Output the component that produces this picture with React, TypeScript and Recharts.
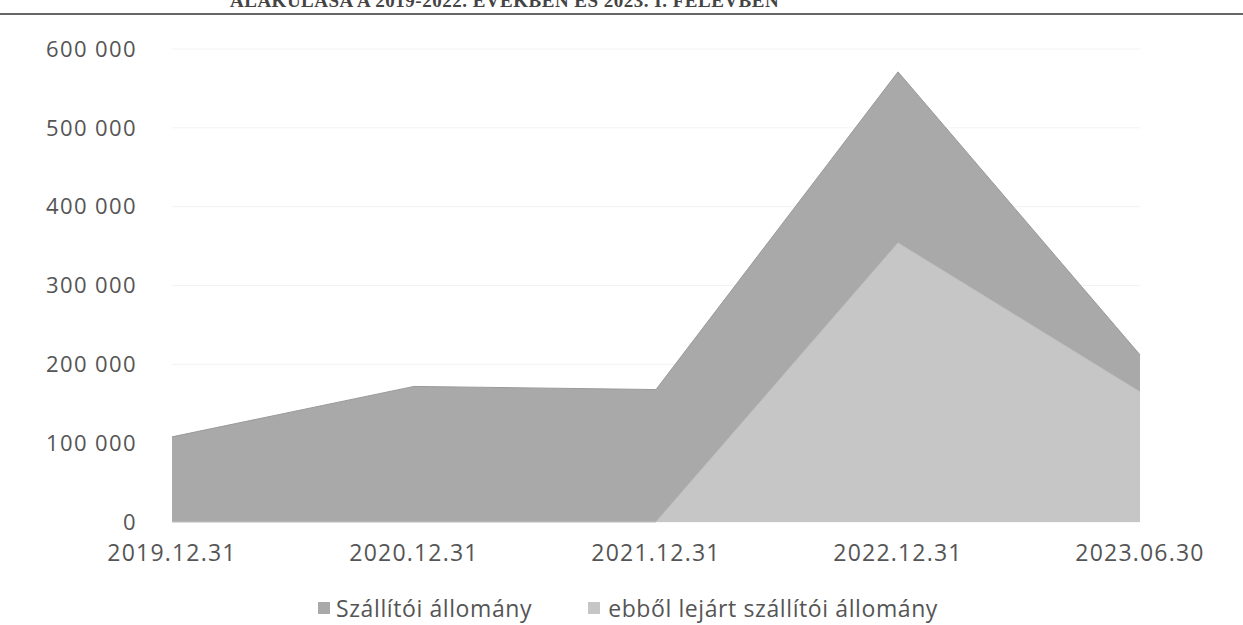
import React from 'react';
import { AreaChart, Area, XAxis, YAxis, CartesianGrid } from 'recharts';

// dates on the x axis
const dates = ['2019.12.31', '2020.12.31', '2021.12.31', '2022.12.31', '2023.06.30'];
// Szállítói állomány
const totalStock = [108000, 172000, 168000, 571000, 212000];
// ebből lejárt szállítói állomány
const overdueStock = [0, 0, 0, 354000, 165000];
const yTicks = [0, 100000, 200000, 300000, 400000, 500000, 600000];

const data = dates.map((d, i) => ({ date: d, total: totalStock[i], overdue: overdueStock[i] }));

const FONT = '"Open Sans", sans-serif';
const fmt = (v: number) => (v === 0 ? '0' : v.toLocaleString('en-US').replace(/,/g, ' '));

const DateTick = (props: any) => {
  const { x, y, payload } = props;
  return (
    <text x={x} y={y} dy="0.71em" textAnchor="middle" fill="#555" fontSize={23} fontFamily={FONT} letterSpacing={1.2}>
      {payload.value}
    </text>
  );
};

export default function App() {
  return (
    <div style={{ position: 'absolute', left: 0, top: 0, width: 1243, height: 625, background: '#fff', overflow: 'hidden' }}>
      {/* cut-off heading of the scanned page */}
      <div
        style={{
          position: 'absolute', left: 230, top: -10, whiteSpace: 'nowrap',
          fontFamily: '"Liberation Serif", serif', fontWeight: 'bold', fontSize: 19, color: '#444', letterSpacing: 0.5,
        }}
      >
        ALAKULÁSA A 2019-2022. ÉVEKBEN ÉS 2023. I. FÉLÉVBEN
      </div>
      <div style={{ position: 'absolute', left: 0, top: 13, width: 1243, height: 2, background: '#666' }} />

      <AreaChart width={1243} height={625} data={data} margin={{ top: 49, right: 103, left: 0, bottom: 53 }}>
        <CartesianGrid vertical={false} stroke="#f2f2f2" />
        <XAxis dataKey="date" axisLine={false} tickLine={false} tickMargin={17} height={50} tick={<DateTick />} interval={0} />
        <YAxis
          width={172}
          domain={[0, 600000]}
          ticks={yTicks}
          axisLine={false}
          tickLine={false}
          tickMargin={29}
          tickFormatter={fmt}
          tick={{ fill: '#555', fontSize: 22, fontFamily: FONT, letterSpacing: 1.4 }}
        />
        <Area
          type="linear"
          dataKey="total"
          name="Szállítói állomány"
          fill="#a9a9a9"
          fillOpacity={1}
          stroke="#9a9a9a"
          strokeWidth={1}
          isAnimationActive={false}
        />
        <Area
          type="linear"
          dataKey="overdue"
          name="ebből lejárt szállítói állomány"
          fill="#c6c6c6"
          fillOpacity={1}
          stroke="#c0c0c0"
          strokeWidth={1}
          isAnimationActive={false}
        />
      </AreaChart>

      {/* legend */}
      <div
        style={{
          position: 'absolute', left: 318, top: 592, display: 'flex', alignItems: 'center',
          fontFamily: FONT, fontSize: 23, color: '#555', letterSpacing: 0.6, whiteSpace: 'nowrap',
        }}
      >
        <span style={{ display: 'inline-block', width: 12, height: 12, background: '#a9a9a9', marginRight: 6 }} />
        <span style={{ marginRight: 56 }}>Szállítói állomány</span>
        <span style={{ display: 'inline-block', width: 12, height: 12, background: '#c6c6c6', marginRight: 8 }} />
        <span>ebből lejárt szállítói állomány</span>
      </div>
    </div>
  );
}
